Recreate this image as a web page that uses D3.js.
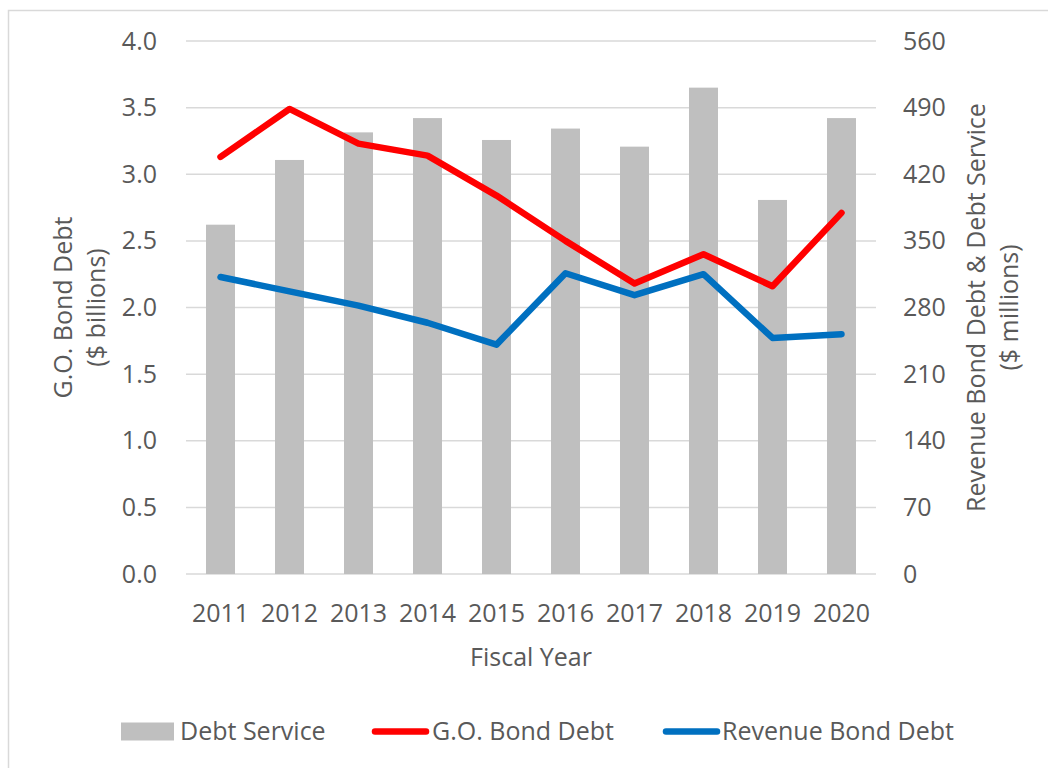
<!DOCTYPE html>
<html>
<head>
<meta charset="utf-8">
<script src="https://cdn.jsdelivr.net/npm/d3@7"></script>
<style>
  html, body { margin: 0; padding: 0; background: #fff; }
  svg { display: block; }
  text { font-family: "Open Sans", "Noto Sans", sans-serif; fill: #595959; }
</style>
</head>
<body>
<svg id="chart" width="1048" height="768"></svg>
<script>
// Fiscal years on the category axis
const years = ["2011", "2012", "2013", "2014", "2015", "2016", "2017", "2018", "2019", "2020"];
// Debt service, $ millions (right axis, bars)
const debtService = [367, 435, 464, 479, 456, 468, 449, 511, 393, 479];
// G.O. bond debt, $ billions (left axis, red line)
const goBondDebt = [3.13, 3.49, 3.23, 3.14, 2.84, 2.50, 2.18, 2.40, 2.16, 2.71];
// Revenue bond debt, $ millions (right axis, blue line)
const revenueBondDebt = [312, 297, 282, 264, 241, 316, 293, 315, 248, 252];
// Axis tick values
const leftTicks = [0, 0.5, 1, 1.5, 2, 2.5, 3, 3.5, 4];
const rightTicks = [0, 70, 140, 210, 280, 350, 420, 490, 560];

const svg = d3.select("#chart");
const plot = { left: 186, right: 876, top: 41, bottom: 574 };

// Outer chart frame (top and left edges)
svg.append("path")
  .attr("d", "M8.5,768 L8.5,10.5 L1048,10.5")
  .attr("fill", "none").attr("stroke", "#d9d9d9").attr("stroke-width", 1.5);

const x = d3.scaleBand().domain(years)
  .range([plot.left, plot.right]).paddingInner(0.58).paddingOuter(0.29);
const yLeft = d3.scaleLinear().domain([0, 4]).range([plot.bottom, plot.top]);
const yRight = d3.scaleLinear().domain([0, 560]).range([plot.bottom, plot.top]);

// Horizontal gridlines
svg.append("g").selectAll("line").data(leftTicks).join("line")
  .attr("x1", plot.left).attr("x2", plot.right)
  .attr("y1", d => yLeft(d)).attr("y2", d => yLeft(d))
  .attr("stroke", "#d9d9d9").attr("stroke-width", 1.5);

// Debt service bars
svg.append("g").selectAll("rect").data(debtService).join("rect")
  .attr("x", (d, i) => x(years[i]))
  .attr("width", x.bandwidth())
  .attr("y", d => yRight(d))
  .attr("height", d => yRight(0) - yRight(d))
  .attr("fill", "#bfbfbf");

// Lines
const cx = i => x(years[i]) + x.bandwidth() / 2;
const goLine = d3.line().x((d, i) => cx(i)).y(d => yLeft(d));
const revLine = d3.line().x((d, i) => cx(i)).y(d => yRight(d));

svg.append("path").datum(goBondDebt).attr("d", goLine)
  .attr("fill", "none").attr("stroke", "#ff0000").attr("stroke-width", 6.5)
  .attr("stroke-linecap", "round").attr("stroke-linejoin", "round");
svg.append("path").datum(revenueBondDebt).attr("d", revLine)
  .attr("fill", "none").attr("stroke", "#0070c0").attr("stroke-width", 6.5)
  .attr("stroke-linecap", "round").attr("stroke-linejoin", "round");

// Axes (labels only)
const fontSize = "25px";
const leftAxis = svg.append("g").attr("transform", `translate(${plot.left - 29},0)`)
  .call(d3.axisLeft(yLeft).tickValues(leftTicks).tickFormat(d3.format(".1f")).tickSize(0).tickPadding(0));
const rightAxis = svg.append("g").attr("transform", `translate(${plot.right + 27},0)`)
  .call(d3.axisRight(yRight).tickValues(rightTicks).tickFormat(d3.format("d")).tickSize(0).tickPadding(0));
const bottomAxis = svg.append("g").attr("transform", `translate(0,${plot.bottom + 30})`)
  .call(d3.axisBottom(x).tickSize(0).tickPadding(0));

[leftAxis, rightAxis, bottomAxis].forEach(g => {
  g.select(".domain").remove();
  g.selectAll("text").attr("font-size", fontSize).attr("fill", "#595959")
    .attr("font-family", '"Open Sans", "Noto Sans", sans-serif');
});

// Axis titles
svg.append("text").attr("x", (plot.left + plot.right) / 2).attr("y", 666)
  .attr("text-anchor", "middle").attr("font-size", fontSize).text("Fiscal Year");

const midY = (plot.top + plot.bottom) / 2;
const leftTitle = svg.append("text").attr("text-anchor", "middle").attr("font-size", fontSize)
  .attr("transform", `translate(72,${midY}) rotate(-90)`);
leftTitle.append("tspan").attr("x", 0).attr("y", 0).text("G.O. Bond Debt");
leftTitle.append("tspan").attr("x", 0).attr("y", 33).text("($ billions)");

const rightTitle = svg.append("text").attr("text-anchor", "middle").attr("font-size", fontSize)
  .attr("transform", `translate(985,${midY}) rotate(-90)`);
rightTitle.append("tspan").attr("x", 0).attr("y", 0).text("Revenue Bond Debt & Debt Service");
rightTitle.append("tspan").attr("x", 0).attr("y", 33).text("($ millions)");

// Legend
const legendY = 731.5;
const legend = svg.append("g");
legend.append("rect").attr("x", 121).attr("y", legendY - 9).attr("width", 53).attr("height", 18)
  .attr("fill", "#bfbfbf");
legend.append("text").attr("x", 180).attr("y", legendY).attr("dy", "0.35em")
  .attr("font-size", fontSize).text("Debt Service");
legend.append("line").attr("x1", 375).attr("x2", 426).attr("y1", legendY).attr("y2", legendY)
  .attr("stroke", "#ff0000").attr("stroke-width", 6.5).attr("stroke-linecap", "round");
legend.append("text").attr("x", 432).attr("y", legendY).attr("dy", "0.35em")
  .attr("font-size", fontSize).text("G.O. Bond Debt");
legend.append("line").attr("x1", 666).attr("x2", 717).attr("y1", legendY).attr("y2", legendY)
  .attr("stroke", "#0070c0").attr("stroke-width", 6.5).attr("stroke-linecap", "round");
legend.append("text").attr("x", 722).attr("y", legendY).attr("dy", "0.35em")
  .attr("font-size", fontSize).text("Revenue Bond Debt");
</script>
</body>
</html>
